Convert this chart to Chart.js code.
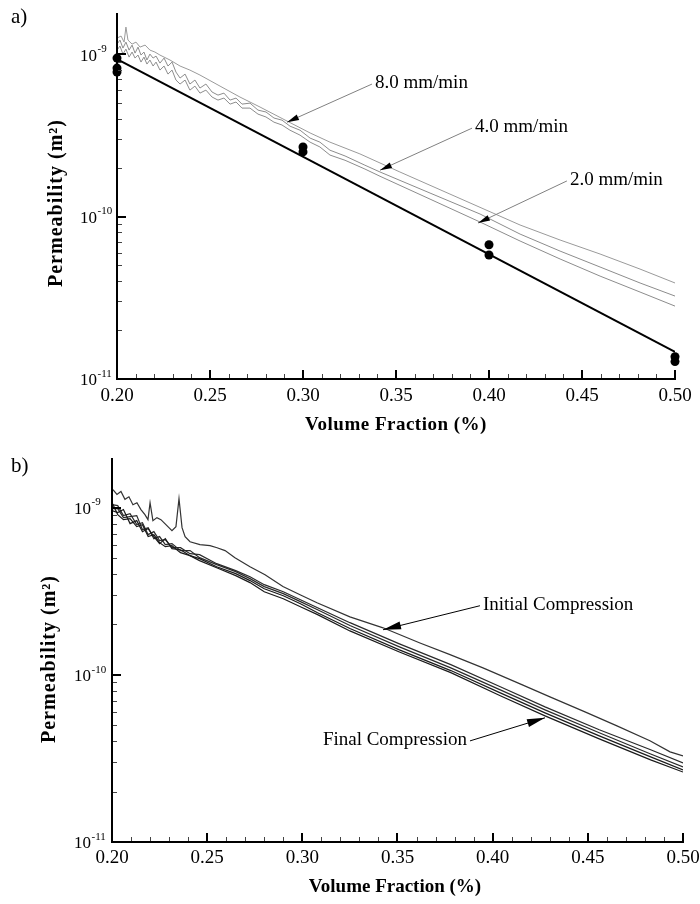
<!DOCTYPE html>
<html><head><meta charset="utf-8">
<script src="https://cdn.jsdelivr.net/npm/chart.js@4.4.1/dist/chart.umd.min.js"></script>
<style>
html,body{margin:0;padding:0;background:#fff;}
#wrap{position:relative;width:700px;height:904px;overflow:hidden;}
canvas{position:absolute;left:0;}
#ca{top:0;width:700px;height:440px;}
#cb{top:440px;width:700px;height:464px;}
</style></head><body>
<div id="wrap"><canvas id="ca" width="700" height="440"></canvas><canvas id="cb" width="700" height="464"></canvas></div>
<script>
// ---------- axis ticks ----------
const xTicks = [0.20, 0.25, 0.30, 0.35, 0.40, 0.45, 0.50];
const xTickLabels = ['0.20', '0.25', '0.30', '0.35', '0.40', '0.45', '0.50'];
const xMinorTicks = [0.21,0.22,0.23,0.24,0.26,0.27,0.28,0.29,0.31,0.32,0.33,0.34,0.36,0.37,0.38,0.39,0.41,0.42,0.43,0.44,0.46,0.47,0.48,0.49];
const yDecades = [1e-11, 1e-10, 1e-9];
const yDecadeExponents = ['-11', '-10', '-9'];
const yMinorMultipliers = [2, 3, 4, 5, 6, 7, 8, 9];

// ---------- panel a) ----------
const a8X = [0.2000,0.2022,0.2038,0.2048,0.2059,0.2081,0.2102,0.2124,0.2151,0.2177,0.2204,0.2231,0.2285,0.2339,0.2392,0.2446,0.2554,0.2661,0.2769,0.2914,0.3038,0.3145,0.3306,0.3521,0.3790,0.4167,0.4382,0.4597,0.4812,0.5000];
const a8Y = [1.254e-9,1.291e-9,1.185e-9,1.466e-9,1.219e-9,1.152e-9,1.185e-9,1.104e-9,1.136e-9,1.058e-9,1.029e-9,9.86e-10,9.19e-10,8.44e-10,7.97e-10,7.43e-10,6.35e-10,5.44e-10,4.72e-10,3.87e-10,3.27e-10,2.87e-10,2.43e-10,1.88e-10,1.375e-10,8.87e-11,7.17e-11,5.88e-11,4.75e-11,3.90e-11];
const aNoisyX = [0.2000,0.2016,0.2032,0.2048,0.2065,0.2081,0.2097,0.2113,0.2129,0.2145,0.2161,0.2177,0.2194,0.2210,0.2231,0.2253,0.2274,0.2296,0.2317,0.2339,0.2366,0.2392,0.2419,0.2446,0.2478,0.2511,0.2543,0.2575,0.2608,0.2640,0.2672,0.2715,0.2758,0.2801,0.2844,0.2887,0.2930,0.2984,0.3038,0.3091,0.3145,0.3226,0.3333,0.3414,0.3683,0.3952,0.4167,0.4382,0.4597,0.4812,0.5000];
const a4Y = [1.152e-9,1.219e-9,1.089e-9,1.185e-9,1.058e-9,1.136e-9,1.014e-9,1.104e-9,9.86e-10,1.029e-9,9.19e-10,1.000e-9,9.45e-10,9.72e-10,8.80e-10,9.45e-10,8.44e-10,8.93e-10,7.75e-10,7.12e-10,7.53e-10,6.54e-10,6.92e-10,6.18e-10,6.54e-10,5.84e-10,5.59e-10,5.75e-10,5.21e-10,5.36e-10,4.92e-10,4.99e-10,4.52e-10,4.40e-10,4.04e-10,3.92e-10,3.60e-10,3.40e-10,3.04e-10,2.87e-10,2.56e-10,2.36e-10,2.07e-10,1.88e-10,1.395e-10,1.036e-10,7.80e-11,6.13e-11,4.89e-11,3.90e-11,3.24e-11];
const a2Y = [1.058e-9,1.120e-9,1.000e-9,1.073e-9,9.58e-10,1.029e-9,9.45e-10,9.86e-10,8.93e-10,9.58e-10,8.68e-10,9.19e-10,8.44e-10,8.93e-10,7.97e-10,8.44e-10,7.53e-10,7.97e-10,6.92e-10,6.54e-10,6.92e-10,6.00e-10,6.35e-10,5.75e-10,6.00e-10,5.44e-10,5.21e-10,5.36e-10,4.92e-10,5.07e-10,4.65e-10,4.65e-10,4.27e-10,4.10e-10,3.81e-10,3.66e-10,3.40e-10,3.17e-10,2.87e-10,2.68e-10,2.39e-10,2.22e-10,1.96e-10,1.77e-10,1.28e-10,9.25e-11,7.07e-11,5.48e-11,4.30e-11,3.43e-11,2.81e-11];
const fitX = [0.20, 0.50];
const fitY = [9.3e-10, 1.47e-11];
const measX = [0.20, 0.20, 0.20, 0.30, 0.30, 0.40, 0.40, 0.50, 0.50];
const measY = [9.45e-10, 8.2e-10, 7.75e-10, 2.68e-10, 2.50e-10, 6.7e-11, 5.8e-11, 1.37e-11, 1.28e-11];

// ---------- panel b) ----------
const bInitX = [0.2005,0.2026,0.2047,0.2068,0.2089,0.2110,0.2131,0.2152,0.2173,0.2189,0.2200,0.2215,0.2236,0.2257,0.2278,0.2299,0.2315,0.2336,0.2352,0.2368,0.2384,0.2410,0.2462,0.2515,0.2552,0.2594,0.2646,0.2725,0.2804,0.2898,0.2988,0.3077,0.3250,0.3424,0.3618,0.3776,0.3949,0.4144,0.4301,0.4485,0.4653,0.4826,0.4932,0.5000];
const bInitY = [1.28e-9,1.20e-9,1.25e-9,1.12e-9,1.16e-9,1.04e-9,1.07e-9,9.73e-10,9.08e-10,8.47e-10,1.07e-9,8.36e-10,8.71e-10,8.47e-10,8.02e-10,7.59e-10,7.28e-10,7.69e-10,1.13e-9,7.59e-10,6.70e-10,6.25e-10,6.00e-10,5.92e-10,5.75e-10,5.53e-10,5.02e-10,4.43e-10,3.97e-10,3.37e-10,3.01e-10,2.70e-10,2.22e-10,1.91e-10,1.55e-10,1.32e-10,1.10e-10,8.83e-11,7.38e-11,6.00e-11,4.95e-11,4.03e-11,3.46e-11,3.27e-11];
const bRunX = [0.200,0.203,0.206,0.2095,0.213,0.216,0.219,0.222,0.225,0.228,0.2315,0.236,0.241,0.246,0.255,0.265,0.2725,0.280,0.290,0.299,0.308,0.325,0.351,0.378,0.404,0.4275,0.456,0.483,0.500];
const bRun2Y = [1.042e-9,1.028e-9,8.96e-10,9.20e-10,7.91e-10,8.13e-10,6.89e-10,7.18e-10,6.35e-10,6.43e-10,5.76e-10,5.76e-10,5.30e-10,5.23e-10,4.62e-10,4.20e-10,3.86e-10,3.46e-10,3.14e-10,2.81e-10,2.52e-10,2.05e-10,1.53e-10,1.15e-10,8.48e-11,6.43e-11,4.69e-11,3.56e-11,2.97e-11];
const bRun3Y = [9.86e-10,9.86e-10,8.71e-10,8.83e-10,8.96e-10,7.38e-10,7.59e-10,6.52e-10,6.71e-10,6.01e-10,6.09e-10,5.53e-10,5.53e-10,5.02e-10,4.56e-10,4.14e-10,3.76e-10,3.37e-10,3.06e-10,2.74e-10,2.45e-10,1.97e-10,1.47e-10,1.10e-10,8.13e-11,6.17e-11,4.50e-11,3.36e-11,2.81e-11];
const bRun4Y = [9.59e-10,9.33e-10,9.73e-10,8.02e-10,8.36e-10,7.18e-10,7.49e-10,6.71e-10,6.09e-10,6.52e-10,5.68e-10,5.60e-10,5.16e-10,4.95e-10,4.43e-10,4.03e-10,3.66e-10,3.27e-10,2.97e-10,2.66e-10,2.35e-10,1.89e-10,1.41e-10,1.06e-10,7.80e-11,5.92e-11,4.31e-11,3.23e-11,2.70e-11];
const bFinalY = [1.071e-9,9.08e-10,8.47e-10,8.59e-10,7.70e-10,7.91e-10,6.71e-10,6.89e-10,6.17e-10,5.84e-10,5.92e-10,5.38e-10,5.16e-10,4.82e-10,4.37e-10,3.92e-10,3.56e-10,3.14e-10,2.85e-10,2.55e-10,2.29e-10,1.83e-10,1.37e-10,1.03e-10,7.49e-11,5.68e-11,4.14e-11,3.10e-11,2.62e-11];

const pts = (xs, ys) => xs.map((x, i) => ({ x: x, y: ys[i] }));
const SERIF = "'Liberation Serif', 'Times New Roman', serif";

function drawArrow(ctx, x1, y1, x2, y2, lineColor, L, W) {
  ctx.strokeStyle = lineColor; ctx.lineWidth = 1;
  ctx.beginPath(); ctx.moveTo(x1, y1); ctx.lineTo(x2, y2); ctx.stroke();
  const ang = Math.atan2(y2 - y1, x2 - x1);
  const c = Math.cos(ang), s = Math.sin(ang);
  ctx.fillStyle = '#000';
  ctx.beginPath();
  ctx.moveTo(x2, y2);
  ctx.lineTo(x2 - L * c + W * s, y2 - L * s - W * c);
  ctx.lineTo(x2 - L * c - W * s, y2 - L * s + W * c);
  ctx.closePath(); ctx.fill();
}

const paperAxes = {
  id: 'paperAxes',
  afterDraw(chart, args, o) {
    const ctx = chart.ctx, ca = chart.chartArea, xs = chart.scales.x, ys = chart.scales.y;
    ctx.save();
    // minor ticks
    ctx.strokeStyle = '#444'; ctx.lineWidth = 1;
    ctx.beginPath();
    xMinorTicks.forEach(v => { const p = Math.round(xs.getPixelForValue(v)) + 0.5; ctx.moveTo(p, ca.bottom); ctx.lineTo(p, ca.bottom - 5); });
    yDecades.forEach(d => yMinorMultipliers.forEach(m => {
      const v = d * m; if (v >= ys.max || v <= ys.min) return;
      const p = Math.round(ys.getPixelForValue(v)) + 0.5; ctx.moveTo(ca.left, p); ctx.lineTo(ca.left + 5, p);
    }));
    ctx.stroke();
    // major ticks
    ctx.strokeStyle = '#000'; ctx.lineWidth = 2;
    ctx.beginPath();
    xTicks.forEach(v => { const p = Math.round(xs.getPixelForValue(v)); ctx.moveTo(p, ca.bottom); ctx.lineTo(p, ca.bottom - 9); });
    yDecades.forEach(d => { const p = Math.round(ys.getPixelForValue(d)); ctx.moveTo(ca.left, p); ctx.lineTo(ca.left + 9, p); });
    ctx.stroke();
    // axis lines (left + bottom only)
    ctx.lineWidth = 2;
    ctx.beginPath();
    ctx.moveTo(ca.left, ca.top); ctx.lineTo(ca.left, ca.bottom); ctx.lineTo(ca.right + 1, ca.bottom);
    ctx.stroke();
    // y tick labels 10^n
    ctx.fillStyle = '#000';
    yDecades.forEach((d, i) => {
      const p = ys.getPixelForValue(d);
      ctx.font = '17px ' + SERIF; ctx.textAlign = 'right'; ctx.textBaseline = 'middle';
      const bx = ca.left - o.yLabelGap;
      ctx.fillText('10', bx, p + 2);
      ctx.font = '11px ' + SERIF; ctx.textAlign = 'left';
      ctx.fillText(yDecadeExponents[i], bx + 0.5, p - 5);
    });
    // axis titles
    ctx.font = 'bold 19px ' + SERIF; ctx.textAlign = 'center'; ctx.textBaseline = 'middle';
    ctx.letterSpacing = o.xTitleSpacing;
    ctx.fillText('Volume Fraction (%)', o.xTitle[0], o.xTitle[1]);
    ctx.save();
    ctx.translate(o.yTitle[0], o.yTitle[1]); ctx.rotate(-Math.PI / 2);
    ctx.font = 'bold 20px ' + SERIF; ctx.letterSpacing = '1px';
    ctx.fillText('Permeability (m\u00B2)', 0, 0);
    ctx.restore();
    ctx.letterSpacing = '0px';
    // panel letter
    ctx.font = '21px ' + SERIF; ctx.textAlign = 'left'; ctx.textBaseline = 'middle';
    ctx.fillText(o.panel[0], o.panel[1], o.panel[2]);
    // annotations with arrows
    ctx.font = '19px ' + SERIF; ctx.textBaseline = 'middle';
    o.notes.forEach(n => {
      const tx = xs.getPixelForValue(n.at[0]), ty = ys.getPixelForValue(n.at[1]);
      const hx = xs.getPixelForValue(n.tip[0]), hy = ys.getPixelForValue(n.tip[1]);
      ctx.fillStyle = '#000';
      ctx.textAlign = n.align;
      ctx.fillText(n.text, tx, ty);
      const sx = n.align === 'left' ? tx - 3 : tx + 3;
      drawArrow(ctx, sx, ty + 1, hx, hy, n.lineColor, n.head[0], n.head[1]);
    });
    ctx.restore();
  }
};

function makeChart(id, datasets, cfg) {
  return new Chart(document.getElementById(id), {
    type: 'scatter',
    data: { datasets: datasets },
    options: {
      responsive: false, animation: false, devicePixelRatio: 1,
      layout: { padding: cfg.padding },
      plugins: { legend: { display: false }, tooltip: { enabled: false }, paperAxes: cfg.axes },
      scales: {
        x: {
          type: 'linear', min: 0.2, max: 0.5,
          grid: { display: false, drawTicks: false }, border: { display: false },
          afterBuildTicks: s => { s.ticks = xTicks.map(v => ({ value: v })); },
          ticks: { callback: (v, i) => xTickLabels[i], color: '#000', font: { family: SERIF, size: 19 }, padding: cfg.xPad, maxRotation: 0, autoSkip: false },
          afterFit: s => { s.height = cfg.xHeight; s.paddingLeft = 0; s.paddingRight = 0; }
        },
        y: {
          type: 'logarithmic', min: 1e-11, max: cfg.yMax,
          grid: { display: false, drawTicks: false }, border: { display: false },
          ticks: { display: false },
          afterFit: s => { s.width = cfg.yWidth; }
        }
      }
    },
    plugins: [paperAxes]
  });
}

const line = (d, color, w) => ({ data: d, showLine: true, borderColor: color, borderWidth: w, pointRadius: 0, tension: 0, fill: false });

makeChart('ca', [
  { data: pts(measX, measY), showLine: false, pointRadius: 4.5, pointStyle: 'circle', backgroundColor: '#000', borderColor: '#000', borderWidth: 0, clip: false },
  line(pts(fitX, fitY), '#000', 2),
  line(pts(aNoisyX, a2Y), '#8c8c8c', 1),
  line(pts(aNoisyX, a4Y), '#8c8c8c', 1),
  line(pts(a8X, a8Y), '#9a9a9a', 1)
], {
  padding: { top: 13, right: 25, left: 0, bottom: 0 }, xHeight: 61, yWidth: 117, yMax: 1.79e-9, xPad: 6,
  axes: {
    yLabelGap: 20, xTitle: [396, 425], yTitle: [57, 203], xTitleSpacing: '0.5px', panel: ['a)', 11, 17],
    notes: [
      { text: '8.0 mm/min', at: [0.3387, 6.63e-10], tip: [0.2914, 3.81e-10], align: 'left', lineColor: '#808080', head: [12, 3] },
      { text: '4.0 mm/min', at: [0.3925, 3.55e-10], tip: [0.3414, 1.93e-10], align: 'left', lineColor: '#808080', head: [12, 3] },
      { text: '2.0 mm/min', at: [0.4435, 1.68e-10], tip: [0.3941, 9.12e-11], align: 'left', lineColor: '#808080', head: [12, 3] }
    ]
  }
});

makeChart('cb', [
  line(pts(bRunX, bFinalY), '#1a1a1a', 1.2),
  line(pts(bRunX, bRun4Y), '#1a1a1a', 1.2),
  line(pts(bRunX, bRun3Y), '#2a2a2a', 1.2),
  line(pts(bRunX, bRun2Y), '#2a2a2a', 1.2),
  line(pts(bInitX, bInitY), '#333', 1.2)
], {
  padding: { top: 18, right: 17, left: 0, bottom: 0 }, xHeight: 62, yWidth: 112, yMax: 1.98e-9, xPad: 5,
  axes: {
    yLabelGap: 21, xTitle: [395, 447], yTitle: [50, 219], xTitleSpacing: '0px', panel: ['b)', 11, 26],
    notes: [
      { text: 'Initial Compression', at: [0.3949, 2.625e-10], tip: [0.3424, 1.86e-10], align: 'left', lineColor: '#000', head: [18, 4] },
      { text: 'Final Compression', at: [0.3865, 4.08e-11], tip: [0.4275, 5.53e-11], align: 'right', lineColor: '#000', head: [18, 4] }
    ]
  }
});
</script>
</body></html>
